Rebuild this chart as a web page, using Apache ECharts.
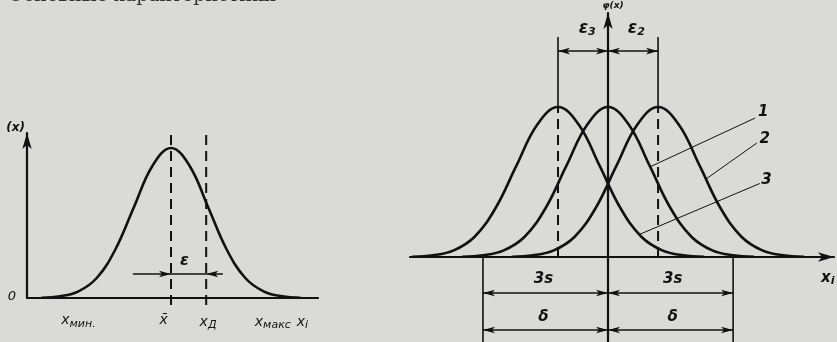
<!DOCTYPE html>
<html>
<head>
<meta charset="utf-8">
<script src="https://cdn.jsdelivr.net/npm/echarts@6/dist/echarts.min.js"></script>
<style>
  html, body { margin: 0; padding: 0; background: #dadad7; }
  #chart { width: 837px; height: 342px; }
</style>
</head>
<body>
<div id="chart"></div>
<script>
// Bell-shaped density profile: offset from the centre (in s) and relative height
const profileOffsets = [-3.5, -3, -2.5, -2, -1.5, -1, -0.5, 0, 0.5, 1, 1.5, 2, 2.5, 3, 3.5];
const profileHeights = [0.002, 0.011, 0.044, 0.135, 0.325, 0.607, 0.882, 1, 0.882, 0.607, 0.325, 0.135, 0.044, 0.011, 0.002];

// Left figure: one distribution with mean x̄ and the true value xД
const leftCentre = 0;
const leftMarks = { xMin: -2.5, xMean: 0, xTrue: 0.95, xMax: 2.5 };

// Right figure: three shifted distributions (curve numbers and centres)
const curveNames = ['3', '1', '2'];
const curveCentres = [-1.2, 0, 1.2];
const spread = 3;            // 3s on each side of the centre

const INK = '#111';
const FONT = '"DejaVu Sans", sans-serif';

function shifted(centre) {
  return profileOffsets.map((o, i) => [centre + o, profileHeights[i]]);
}

function seg(x1, y1, x2, y2, s1, s2) {
  return [{ coord: [x1, y1], symbol: s1 }, { coord: [x2, y2], symbol: s2 }];
}

function textSeries(xi, items) {
  return {
    type: 'scatter', xAxisIndex: xi, yAxisIndex: xi, clip: false, silent: true,
    symbolSize: 0, animation: false, itemStyle: { opacity: 1 },
    data: items.map(t => {
      const w = t.light ? 'normal' : 'bold';
      return {
        value: [t.x, t.y],
        label: {
          show: true, position: 'inside', formatter: t.text, opacity: 1,
          color: INK, fontFamily: FONT, fontStyle: 'italic', fontWeight: w, fontSize: t.size || 14,
          rich: {
            b: { fontFamily: FONT, fontStyle: 'italic', fontWeight: w, fontSize: t.size || 14, color: INK },
            s: { fontFamily: FONT, fontStyle: 'italic', fontWeight: w, fontSize: 11, color: INK, padding: [7, 0, 0, 0] }
          }
        }
      };
    })
  };
}

function plainLine(xi, pts, dashed, width) {
  return {
    type: 'line', xAxisIndex: xi, yAxisIndex: xi, clip: false, silent: true,
    showSymbol: false, animation: false, data: pts,
    lineStyle: { color: INK, width: width || 2, type: dashed ? [10, 6] : 'solid' }
  };
}

function arrows(xi, segs, width) {
  return {
    type: 'line', xAxisIndex: xi, yAxisIndex: xi, clip: false, silent: true,
    data: [], animation: false,
    markLine: {
      silent: true, animation: false, symbolSize: [5, 12],
      label: { show: false },
      lineStyle: { color: INK, width: width || 1.5, type: 'solid' },
      emphasis: { disabled: true },
      data: segs
    }
  };
}

const axisCommon = {
  axisTick: { show: false }, axisLabel: { show: false }, splitLine: { show: false }
};

const chart = echarts.init(document.getElementById('chart'), null, { renderer: 'canvas' });

const epsY = 0.16;
const topDimY = 1.373;
const row1Y = -0.24;
const row2Y = -0.487;

chart.setOption({
  backgroundColor: '#dadad7',
  animation: false,
  graphic: [{
    type: 'text', left: 8, top: -13,
    style: { text: 'Основные характеристики', font: '19px "DejaVu Serif", serif', fill: '#333' }
  }],
  grid: [
    { left: 27, top: 133, width: 291, height: 165 },
    { left: 410, top: 13, width: 424, height: 329 }
  ],
  xAxis: [
    Object.assign({ type: 'value', gridIndex: 0, min: -3.89, max: 3.97,
      axisLine: { onZero: true, lineStyle: { color: INK, width: 2.2 } } }, axisCommon),
    Object.assign({ type: 'value', gridIndex: 1, min: -4.75, max: 5.42,
      axisLine: { onZero: true, symbol: ['none', 'arrow'], symbolSize: [7, 16],
        lineStyle: { color: INK, width: 2.2 } } }, axisCommon)
  ],
  yAxis: [
    Object.assign({ type: 'value', gridIndex: 0, min: 0, max: 1.1,
      axisLine: { onZero: false, symbol: ['none', 'arrow'], symbolSize: [7, 16],
        lineStyle: { color: INK, width: 2.2 } } }, axisCommon),
    Object.assign({ type: 'value', gridIndex: 1, min: -0.567, max: 1.627,
      axisLine: { onZero: true, symbol: ['none', 'arrow'], symbolSize: [7, 16],
        lineStyle: { color: INK, width: 2.2 } } }, axisCommon)
  ],
  series: [
    // ---- left figure ----
    {
      type: 'line', xAxisIndex: 0, yAxisIndex: 0, smooth: 0.4, showSymbol: false,
      silent: true, clip: false, data: shifted(leftCentre),
      lineStyle: { color: INK, width: 2.6 }
    },
    plainLine(0, [[leftMarks.xMean, -0.047], [leftMarks.xMean, 1.1]], true, 2),
    plainLine(0, [[leftMarks.xTrue, -0.047], [leftMarks.xTrue, 1.1]], true, 2),
    arrows(0, [
      seg(-1.03, epsY, leftMarks.xMean, epsY, 'none', 'arrow'),
      seg(leftMarks.xMean, epsY, leftMarks.xTrue, epsY, 'none', 'none'),
      seg(1.4, epsY, leftMarks.xTrue, epsY, 'none', 'arrow')
    ]),
    textSeries(0, [
      { x: -4.2, y: 1.135, text: '(x)', size: 12 },
      { x: -4.3, y: 0.01, text: '0', size: 13, light: true },
      { x: 0.36, y: 0.25, text: 'ε', size: 16 },
      { x: leftMarks.xMin, y: -0.15, text: '{b|x}{s|мин.}', size: 14, light: true },
      { x: -0.2, y: -0.15, text: 'x̄', size: 14, light: true },
      { x: 1.0, y: -0.16, text: '{b|x}{s|Д}', size: 14, light: true },
      { x: 2.75, y: -0.16, text: '{b|x}{s|макс}', size: 14, light: true },
      { x: 3.55, y: -0.16, text: '{b|x}{s|i}', size: 14, light: true }
    ]),

    // ---- right figure ----
    ...curveCentres.map((c, k) => ({
      type: 'line', name: curveNames[k], xAxisIndex: 1, yAxisIndex: 1, smooth: 0.4,
      showSymbol: false, silent: true, clip: false, data: shifted(c),
      lineStyle: { color: INK, width: 2.6 }
    })),
    plainLine(1, [[curveCentres[0], 0], [curveCentres[0], 1]], true, 2),
    plainLine(1, [[curveCentres[2], 0], [curveCentres[2], 1]], true, 2),
    plainLine(1, [[curveCentres[0], 1], [curveCentres[0], 1.467]], false, 1.6),
    plainLine(1, [[curveCentres[2], 1], [curveCentres[2], 1.467]], false, 1.6),
    plainLine(1, [[-spread, 0], [-spread, -0.567]], false, 1.6),
    plainLine(1, [[spread, 0], [spread, -0.567]], false, 1.6),
    // leader lines to the curve numbers
    plainLine(1, [[1.0, 0.6], [3.53, 0.927]], false, 1),
    plainLine(1, [[2.35, 0.52], [3.57, 0.76]], false, 1),
    plainLine(1, [[0.75, 0.15], [3.64, 0.49]], false, 1),
    arrows(1, [
      seg(curveCentres[0], topDimY, 0, topDimY, 'arrow', 'arrow'),
      seg(0, topDimY, curveCentres[2], topDimY, 'arrow', 'arrow'),
      seg(-spread, row1Y, 0, row1Y, 'arrow', 'arrow'),
      seg(0, row1Y, spread, row1Y, 'arrow', 'arrow'),
      seg(-spread, row2Y, 0, row2Y, 'arrow', 'arrow'),
      seg(0, row2Y, spread, row2Y, 'arrow', 'arrow')
    ]),
    textSeries(1, [
      { x: 0.12, y: 1.675, text: 'φ(x)', size: 9 },
      { x: -0.5, y: 1.52, text: '{b|ε}{s|3}', size: 17 },
      { x: 0.68, y: 1.52, text: '{b|ε}{s|2}', size: 17 },
      { x: 3.72, y: 0.965, text: curveNames[1], size: 15 },
      { x: 3.76, y: 0.785, text: curveNames[2], size: 15 },
      { x: 3.8, y: 0.515, text: curveNames[0], size: 15 },
      { x: -1.55, y: -0.15, text: '3s', size: 15 },
      { x: 1.55, y: -0.15, text: '3s', size: 15 },
      { x: -1.55, y: -0.4, text: 'δ', size: 15 },
      { x: 1.55, y: -0.4, text: 'δ', size: 15 },
      { x: 5.27, y: -0.14, text: '{b|x}{s|i}', size: 15 }
    ])
  ]
});
</script>
</body>
</html>
